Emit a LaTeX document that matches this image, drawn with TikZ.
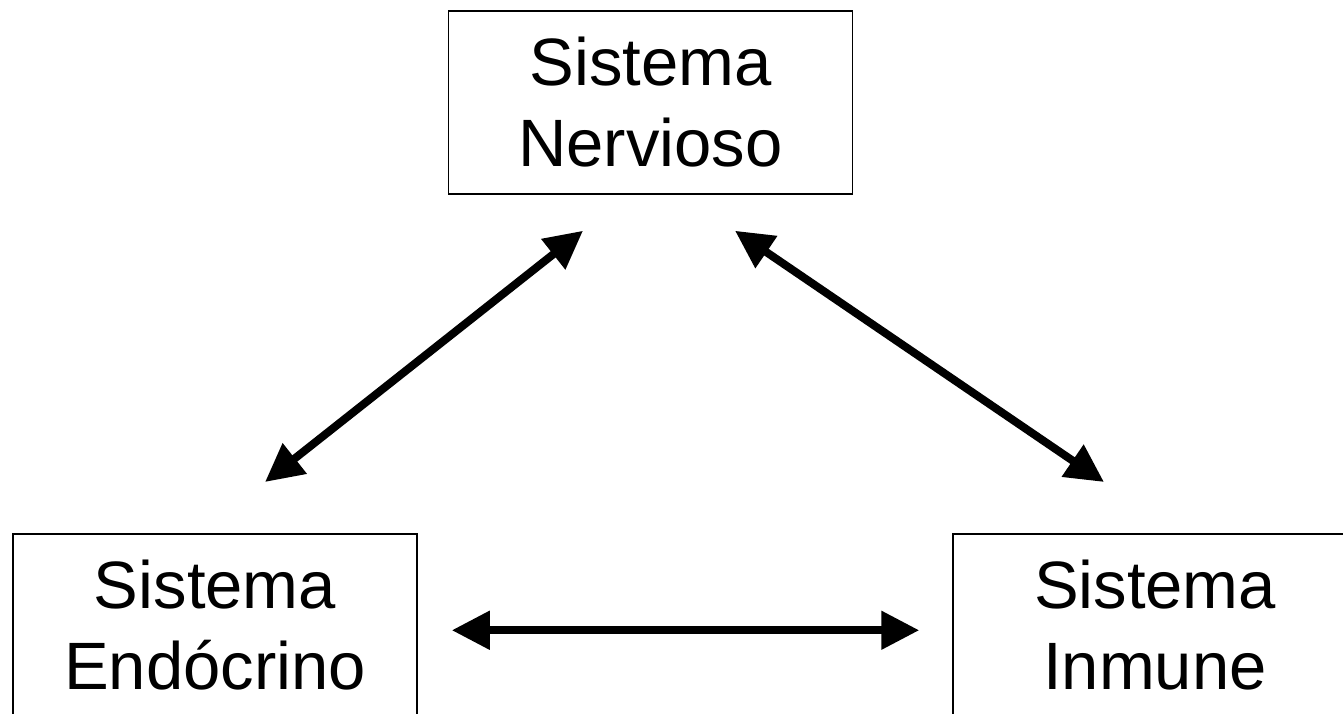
\documentclass[tikz,border=0pt]{standalone}
\usepackage{fontspec}
\setmainfont{Liberation Sans}
\usepackage{tikz}
\usetikzlibrary{
  arrows.meta,
  positioning
}
\definecolor{boxcolor}{RGB}{0, 0, 0}
\definecolor{arrowcolor}{RGB}{0, 0, 0}
\tikzset{
systemtext/.style={
  align=center,
  font=\fontsize{33.5}{40.5}\selectfont,
  text=black
},
systemblock/.style={
  draw=boxcolor,
  line width=0.75pt,
  fill=white,
  minimum width=202pt,
  minimum height=91.5pt,
  systemtext
},
arrow/.style={
  {Triangle[length=19pt,width=18.5pt]}-{Triangle[length=19pt,width=18.5pt]},
  line width=4pt,
  draw=arrowcolor
}
}

\begin{document}
\begin{tikzpicture}[x=0.5pt,y=-0.5pt]
  \useasboundingbox (0,0) rectangle (1343,713);
  \clip (0,0) rectangle (1343,713);
  % the three systems
  \node[systemblock] (nervioso) at (650.5,102.5) {Sistema\\Nervioso};
  \node[systemblock, anchor=north] (endocrino) at (215,533) {Sistema\\Endócrino};
  \node[systemblock, anchor=north] (inmune) at (1155,533) {Sistema\\Inmune};
  % interactions
  \draw[arrow] ([xshift=25pt,yshift=25.5pt]endocrino.north) -- ([xshift=-33.75pt,yshift=-18pt]nervioso.south);
  \draw[arrow] ([xshift=42.25pt,yshift=-18pt]nervioso.south) -- ([xshift=-25.5pt,yshift=25.5pt]inmune.north);
  \draw[arrow] ([xshift=17pt,yshift=-2.5pt]endocrino.east) -- ([xshift=-16.5pt,yshift=-2.5pt]inmune.west);
\end{tikzpicture}
\end{document}
